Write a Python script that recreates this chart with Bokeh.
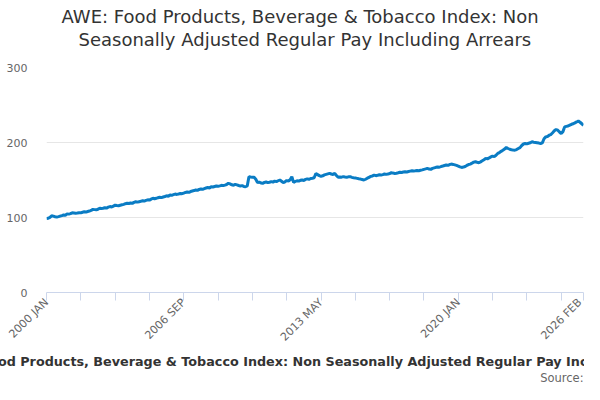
import math
from bokeh.plotting import figure
from bokeh.models import Range1d, FixedTicker, Title, ColumnDataSource
from bokeh.embed import file_html
from bokeh.resources import INLINE

month_names = ["JAN", "FEB", "MAR", "APR", "MAY", "JUN",
               "JUL", "AUG", "SEP", "OCT", "NOV", "DEC"]

y2000 = [98.5, 99.0, 100.2, 102.3, 101.8, 101.0, 100.6, 101.2, 101.9, 102.5, 103.4, 103.0]
y2001 = [104.8, 104.5, 105.2, 106.3, 106.0, 105.7, 105.9, 106.4, 106.2, 107.0, 107.6, 107.2]
y2002 = [108.0, 108.6, 109.4, 110.8, 110.5, 110.2, 111.0, 112.4, 111.9, 112.3, 113.0, 112.6]
y2003 = [113.8, 114.6, 114.0, 115.2, 116.4, 115.9, 115.6, 116.3, 116.9, 117.5, 118.4, 119.0]
y2004 = [118.6, 119.3, 118.8, 120.2, 121.0, 120.5, 121.1, 121.6, 122.4, 121.9, 122.8, 123.6]
y2005 = [123.2, 124.5, 125.7, 125.0, 125.6, 126.4, 127.0, 126.5, 127.3, 128.0, 128.9, 128.3]
y2006 = [130.0, 129.6, 130.4, 131.2, 130.8, 131.4, 132.1, 131.7, 132.6, 133.4, 134.0, 133.5]
y2007 = [134.6, 135.3, 135.9, 136.7, 136.2, 137.4, 138.1, 137.6, 138.5, 139.3, 140.0, 139.4]
y2008 = [141.0, 140.6, 141.3, 142.0, 141.6, 142.2, 142.9, 142.5, 143.2, 144.0, 145.6, 144.8]
y2009 = [143.6, 143.0, 144.2, 143.5, 142.7, 142.1, 142.5, 141.4, 141.0, 142.0, 154.4, 154.0]
y2010 = [153.8, 153.6, 151.0, 146.4, 147.2, 146.0, 145.6, 146.8, 147.4, 146.5, 147.0, 147.8]
y2011 = [147.2, 148.5, 147.8, 149.0, 150.0, 148.3, 146.5, 147.6, 149.2, 148.6, 150.4, 154.4]
y2012 = [146.8, 148.0, 149.0, 148.5, 149.6, 150.1, 149.4, 150.8, 151.5, 150.9, 152.0, 152.4]
y2013 = [153.0, 158.6, 157.2, 155.8, 154.9, 155.6, 156.8, 157.5, 158.2, 158.9, 158.0, 157.4]
y2014 = [158.8, 156.0, 153.6, 154.0, 153.8, 154.5, 154.0, 153.6, 154.2, 154.4, 153.5, 153.0]
y2015 = [152.8, 152.2, 151.6, 151.2, 150.6, 150.0, 151.0, 152.4, 153.6, 154.8, 155.4, 156.6]
y2016 = [155.8, 156.2, 157.0, 156.6, 157.2, 158.0, 157.5, 157.9, 158.6, 159.7, 159.2, 158.8]
y2017 = [159.0, 159.6, 160.3, 160.0, 160.6, 161.0, 160.7, 161.3, 161.8, 162.3, 161.9, 162.2]
y2018 = [162.6, 162.4, 163.0, 163.5, 164.2, 164.8, 165.5, 164.6, 164.2, 165.5, 166.2, 166.9]
y2019 = [167.4, 167.0, 168.0, 168.6, 169.3, 170.0, 169.5, 170.6, 171.2, 170.8, 170.2, 169.5]
y2020 = [168.6, 167.5, 166.8, 167.2, 168.0, 169.4, 170.6, 171.2, 172.4, 173.8, 174.3, 173.6]
y2021 = [173.0, 174.2, 175.6, 177.0, 178.8, 178.2, 179.4, 180.8, 181.9, 181.2, 183.0, 185.4]
y2022 = [186.6, 188.2, 189.6, 191.2, 193.4, 192.0, 191.0, 190.4, 190.0, 189.8, 190.6, 192.0]
y2023 = [193.2, 196.0, 198.0, 198.7, 198.2, 199.0, 199.6, 200.9, 200.4, 200.0, 199.6, 199.2]
y2024 = [198.7, 199.5, 205.0, 207.5, 208.0, 209.7, 210.6, 213.0, 215.6, 217.3, 216.4, 214.0]
y2025 = [212.0, 214.5, 220.8, 221.5, 222.0, 223.2, 224.3, 225.0, 226.2, 227.4, 228.7, 227.0]
y2026 = [225.0, 223.0]

yearly = [y2000, y2001, y2002, y2003, y2004, y2005, y2006, y2007, y2008, y2009,
          y2010, y2011, y2012, y2013, y2014, y2015, y2016, y2017, y2018, y2019,
          y2020, y2021, y2022, y2023, y2024, y2025, y2026]

values = []
periods = []
for i, yr in enumerate(yearly):
    for m, v in enumerate(yr):
        values.append(v)
        periods.append(f"{2000 + i} {month_names[m]}")

idx = list(range(len(values)))
y_ticks = [0, 100, 200, 300]
tick_step = 20
labeled_ticks = [0, 80, 160, 240, len(values) - 1]

title_line1 = "AWE: Food Products, Beverage & Tobacco Index: Non"
title_line2 = "Seasonally Adjusted Regular Pay Including Arrears"
series_name = "AWE: Food Products, Beverage & Tobacco Index: Non Seasonally Adjusted Regular Pay Including Arrears"
source_text = "Source:"

FONT = "DejaVu Sans"

p = figure(width=584, height=384, output_backend="svg", toolbar_location=None,
           title=None, x_range=Range1d(0, len(values) - 1), y_range=Range1d(0, 300),
           min_border_left=46, min_border_right=1, min_border_top=0, min_border_bottom=0)
p.outline_line_color = None
p.background_fill_color = "white"
p.border_fill_color = "white"

src = ColumnDataSource(dict(x=idx, y=values, period=periods))
p.line("x", "y", source=src, line_width=3, line_color="#0a7cc4")

# axes
x_tick_list = list(range(0, len(values) - 1, tick_step)) + [len(values) - 1]
p.xaxis.ticker = FixedTicker(ticks=x_tick_list)
p.xaxis.major_label_overrides = {t: (periods[t] if t in labeled_ticks else "") for t in x_tick_list}
p.xaxis.major_label_orientation = math.pi / 4
p.xaxis.axis_line_color = "#ccd6eb"
p.xaxis.major_tick_line_color = "#ccd6eb"
p.xaxis.major_tick_in = 0
p.xaxis.major_tick_out = 8
p.xaxis.minor_tick_line_color = None
p.xaxis.major_label_text_font = FONT
p.xaxis.major_label_text_font_size = "11px"
p.xaxis.major_label_text_color = "#666666"
p.xaxis.major_label_standoff = 0

p.yaxis.ticker = FixedTicker(ticks=y_ticks)
p.yaxis.axis_line_color = None
p.yaxis.major_tick_line_color = None
p.yaxis.minor_tick_line_color = None
p.yaxis.major_label_text_font = FONT
p.yaxis.major_label_text_font_size = "11px"
p.yaxis.major_label_text_color = "#666666"
p.yaxis.major_label_standoff = 13

p.xgrid.grid_line_color = None
p.ygrid.grid_line_color = "#e6e6e6"

# above panels: first added is innermost
p.add_layout(Title(text=" ", text_font=FONT, text_font_size="1px", standoff=15), "above")
p.add_layout(Title(text=title_line2, align="left", offset=32, text_font=FONT,
                   text_font_size="18px", text_font_style="normal",
                   text_color="#333333", standoff=0), "above")
p.add_layout(Title(text=title_line1, align="left", offset=15, text_font=FONT,
                   text_font_size="18px", text_font_style="normal",
                   text_color="#333333", standoff=0), "above")
p.add_layout(Title(text=" ", text_font=FONT, text_font_size="1px", standoff=0), "above")

# below panels: axis innermost, then these outward
p.add_layout(Title(text=series_name, align="center", text_font=FONT,
                   text_font_size="12.75px", text_font_style="bold",
                   text_color="#333333", standoff=0), "below")
p.add_layout(Title(text=source_text, align="right", offset=0, text_font=FONT,
                   text_font_size="11.5px", text_font_style="normal",
                   text_color="#666666", standoff=0), "below")

open("out.html", "w").write(file_html(p, INLINE))
